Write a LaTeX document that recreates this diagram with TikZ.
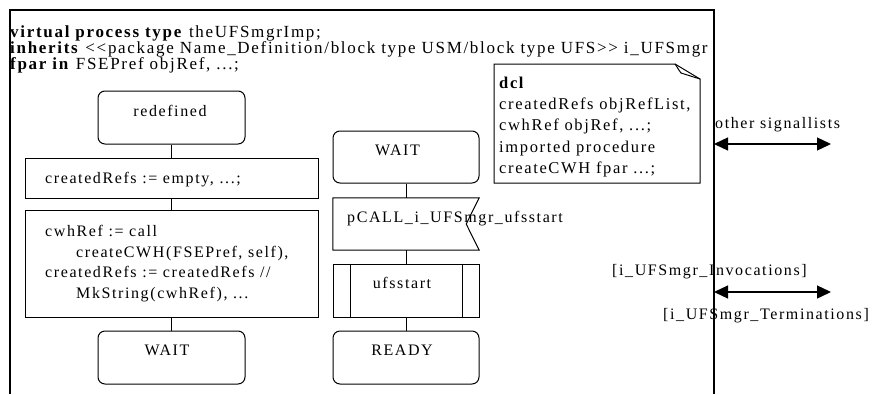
\documentclass[tikz,border=0pt]{standalone}
\usepackage{fontspec}
\setmainfont{Liberation Serif}[LetterSpace=10]
\usetikzlibrary{arrows.meta}
\begin{document}
\begin{tikzpicture}[x=1pt,y=-1pt,
  font=\fontsize{16}{16}\selectfont,
  box/.style={draw, line width=1pt, inner sep=0pt, minimum width=147pt, minimum height=53pt},
  wide/.style={box, minimum width=293pt},
  statebox/.style={box, rounded corners=7pt},
  ghost/.style={inner sep=0pt, minimum width=146pt, minimum height=52pt},
  txt/.style={anchor=base west, inner sep=0pt},
  ctxt/.style={anchor=base, inner sep=0pt},
  head/.style={txt, font=\fontsize{17}{17}\selectfont},
  notetxt/.style={txt, font=\fontsize{16.5}{16.5}\selectfont},
  conn/.style={line width=1pt},
  sig/.style={line width=1.3pt, {Triangle[length=14pt,width=13pt]}-{Triangle[length=14pt,width=13pt]}}
]
\useasboundingbox (0,0) rectangle (880,394);
\fill[white] (0,0) rectangle (880,394);
% frame
\draw[line width=1.3pt] (10,394) -- (10,10) -- (714,10) -- (714,394);
% header text
\node[head] (h1) at (10,37) {\textbf{virtual process type} theUFSmgrImp;};
\node[head] (h2) at (10,53) {\textbf{inherits} <{}<package Name\_Definition/block type USM/block type UFS>{}> i\_UFSmgr};
\node[head] (h3) at (10,69) {\textbf{fpar in} FSEPref objRef, ...;};
% left column
\node[statebox] (r1) at (171.5,117.5) {};
\node[ctxt] at (170,116) {redefined};
\node[wide, minimum height=40pt] (c1) at (171.5,178) {};
\node[txt] at (45,183) {createdRefs := empty, ...;};
\node[wide, minimum height=107pt] (c2) at (171.5,263.5) {};
\node[txt] at (45,236) {cwhRef := call};
\node[txt] at (76,257) {createCWH(FSEPref, self),};
\node[txt] at (45,277) {createdRefs := createdRefs //};
\node[txt] at (76,298) {MkString(cwhRef), ...};
\node[statebox] (w1) at (171.5,357.5) {};
\node[ctxt] at (167,355) {WAIT};
\draw[conn] (r1.south) -- (c1.north);
\draw[conn] (c1.south) -- (c2.north);
\draw[conn] (c2.south) -- (w1.north);
% right column
\node[statebox, minimum width=146pt, minimum height=52pt] (w2) at (406,157) {};
\node[ctxt] at (397.5,155) {WAIT};
\node[ghost] (pc) at (406,224) {};
\draw[line width=1pt] (pc.north west) -- (pc.north east) -- ([xshift=-13pt]pc.east) -- (pc.south east) -- (pc.south west) -- cycle;
\node[txt] at (347,222) {pCALL\_i\_UFSmgr\_ufsstart};
\node[box, minimum width=146pt] (pr) at (406,290.5) {};
\draw[line width=1pt] ([xshift=18pt]pr.north west) -- ([xshift=18pt]pr.south west);
\draw[line width=1pt] ([xshift=-17pt]pr.north east) -- ([xshift=-17pt]pr.south east);
\node[ctxt] at (402,288) {ufsstart};
\node[statebox, minimum width=146pt] (rd) at (406,357.5) {};
\node[ctxt] at (402,355) {READY};
\draw[conn] (w2.south) -- (pc.north);
\draw[conn] (pc.south) -- (pr.north);
\draw[conn] (pr.south) -- (rd.north);
% note
\draw[line width=1pt] (675,64) -- (494,64) -- (494,183) -- (700,183) -- (700,79) -- cycle;
\draw[line width=1pt] (675,64) .. controls (678,68) and (679,71) .. (681,73) -- (700,79);
\node[notetxt] at (499,88) {\textbf{dcl}};
\node[notetxt] at (499,109) {createdRefs objRefList,};
\node[notetxt] at (499,130) {cwhRef objRef, ...;};
\node[notetxt] at (499,152) {imported procedure};
\node[notetxt] at (499,173) {createCWH fpar ...;};
% signal routes
\coordinate (s1a) at (714,144);
\coordinate (s1b) at (831,144);
\draw[sig] (s1a) -- (s1b);
\node[txt] at (715,128) {other signallists};
\coordinate (s2a) at (714,292);
\coordinate (s2b) at (831,292);
\draw[sig] (s2a) -- (s2b);
\node[txt] at (612,275) {[i\_UFSmgr\_Invocations]};
\node[txt] at (663,319) {[i\_UFSmgr\_Terminations]};
\end{tikzpicture}
\end{document}
